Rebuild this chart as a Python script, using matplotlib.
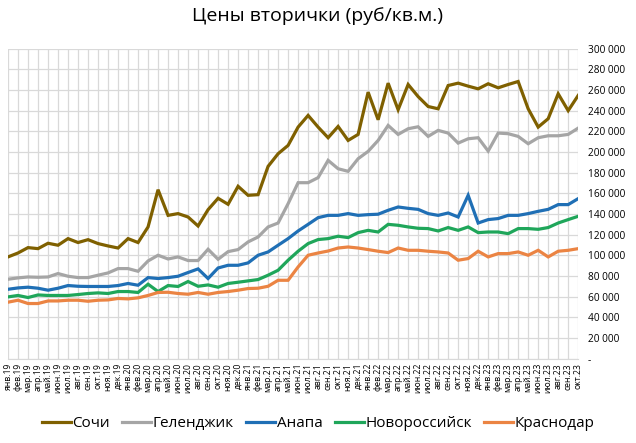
import matplotlib

matplotlib.use("Agg")
import matplotlib.pyplot as plt
from matplotlib.ticker import FuncFormatter, MultipleLocator

plt.rcParams["font.family"] = ["Open Sans", "DejaVu Sans"]

months = ["янв", "фев", "мар", "апр", "май", "июн", "июл", "авг", "сен", "окт", "ноя", "дек"]
years = ["19", "20", "21", "22", "23"]
labels = [f"{m}.{y}" for y in years for m in months][:58]

# цены, тыс. руб/кв.м, янв.19 - окт.23
sochi = [98.6, 102.4, 107.6, 106.6, 111.8, 109.9, 116.3, 112.5, 115.3, 111.5, 109.2, 107.2,
         116.3, 112.5, 127.6, 163.6, 138.8, 140.5, 137.2, 128.5, 144.3, 155.3, 149.5, 166.9,
         158.2, 158.8, 186.2, 198.4, 206.5, 224.2, 235.5, 224.2, 213.9, 224.8, 211.3, 217.1,
         258.0, 231.3, 266.7, 241.0, 265.4, 253.7, 244.1, 241.9, 264.4, 266.7, 263.8, 261.2,
         266.1, 262.2, 265.4, 268.3, 241.9, 224.2, 232.3, 256.4, 240.1, 254.8]
gelendzhik = [77.0, 78.3, 79.2, 78.9, 79.2, 82.5, 79.9, 78.6, 78.6, 80.9, 83.1, 87.3,
              87.3, 84.7, 94.7, 100.2, 96.6, 98.6, 95.1, 95.1, 106.0, 96.3, 103.7, 105.7,
              113.1, 117.9, 127.6, 131.4, 150.1, 170.4, 170.4, 175.3, 192.0, 183.9, 181.4, 193.6,
              200.7, 211.3, 225.8, 217.1, 222.6, 224.5, 215.2, 221.0, 218.4, 208.7, 212.9, 213.9,
              201.0, 218.4, 217.8, 215.2, 208.1, 213.9, 215.8, 215.8, 217.1, 223.2]
anapa = [67.3, 68.6, 69.3, 68.3, 66.4, 68.3, 70.9, 70.2, 70.0, 70.0, 70.0, 70.9,
         72.9, 71.2, 78.6, 77.7, 78.6, 79.9, 83.5, 87.0, 77.7, 87.9, 90.5, 90.5,
         92.8, 100.2, 103.4, 109.9, 116.3, 123.7, 130.1, 136.6, 138.8, 138.8, 140.5, 138.8,
         139.5, 139.9, 143.7, 146.9, 145.6, 144.6, 140.5, 138.8, 141.1, 137.2, 158.2, 131.4,
         134.7, 135.7, 138.8, 138.8, 140.5, 142.7, 144.6, 149.2, 149.2, 155.0]
novoross = [59.9, 61.3, 59.3, 61.8, 61.3, 61.3, 61.3, 62.2, 63.2, 63.8, 63.2, 65.1,
            65.1, 64.2, 72.2, 65.1, 70.9, 70.0, 74.8, 70.2, 71.5, 69.3, 72.9, 74.1,
            75.4, 76.7, 80.9, 85.7, 95.4, 104.1, 111.5, 115.4, 116.3, 118.6, 117.3, 122.1,
            124.3, 122.7, 130.1, 129.2, 127.6, 126.3, 126.0, 123.7, 127.0, 124.3, 127.6, 122.1,
            122.7, 122.7, 121.1, 126.0, 126.0, 125.3, 127.0, 131.4, 134.7, 137.9]
krasnodar = [54.8, 56.7, 53.5, 53.5, 56.0, 56.0, 56.7, 56.7, 55.7, 56.7, 57.0, 58.4,
             58.0, 59.0, 61.3, 64.2, 64.4, 63.2, 62.5, 64.2, 62.5, 64.2, 65.1, 66.4,
             68.0, 68.3, 70.2, 76.0, 76.0, 88.9, 100.2, 102.4, 104.3, 107.2, 108.2, 107.2,
             105.7, 104.1, 102.8, 107.2, 105.0, 105.0, 104.1, 103.4, 102.4, 95.4, 97.0, 104.1,
             98.6, 101.8, 101.8, 103.4, 100.2, 105.0, 98.6, 104.1, 105.0, 106.6]

series = [
    ("Сочи", sochi, "#7F6000"),
    ("Геленджик", gelendzhik, "#A5A5A5"),
    ("Анапа", anapa, "#1F6FB5"),
    ("Новороссийск", novoross, "#1FA65A"),
    ("Краснодар", krasnodar, "#EB8443"),
]

fig = plt.figure(figsize=(6.36, 4.43), dpi=100)
ax = fig.add_axes([0.0126, 0.19, 0.8965, 0.70])

x = list(range(len(labels)))
for name, vals, color in series:
    ax.plot(x, [v * 1000 for v in vals], color=color, lw=2.3, label=name, solid_joinstyle="miter")

ax.set_xlim(0, len(labels) - 1)
ax.set_ylim(0, 300000)
ax.yaxis.set_major_locator(MultipleLocator(20000))
ax.yaxis.tick_right()
ax.yaxis.set_major_formatter(FuncFormatter(lambda v, p: "-" if v == 0 else f"{int(v):,}".replace(",", " ")))
ax.set_xticks(x)
ax.set_xticklabels(labels, rotation=90, fontsize=6.2)
ax.tick_params(axis="y", labelsize=7.3, length=0, pad=7)
ax.tick_params(axis="x", length=0, pad=3)
ax.grid(True, color="#D9D9D9", lw=0.9)
ax.set_axisbelow(True)
for s in ["top", "right", "left"]:
    ax.spines[s].set_visible(False)
ax.spines["bottom"].set_color("#D9D9D9")

fig.suptitle("Цены вторички (руб/кв.м.)", fontsize=14, y=0.985)
fig.legend(loc="lower center", ncol=5, frameon=False, fontsize=11, handlelength=1.9,
           handletextpad=0.1, columnspacing=0.8, bbox_to_anchor=(0.5, -0.005))

fig.savefig("out.png", dpi=100)
